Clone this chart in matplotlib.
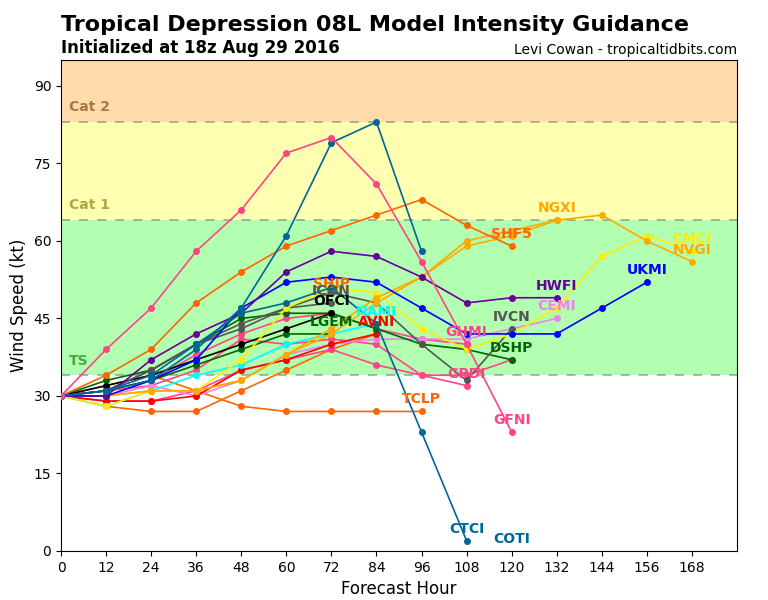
import matplotlib
matplotlib.use("Agg")
import matplotlib.pyplot as plt
import numpy as np

# ---------------- data ----------------
hours = [0, 12, 24, 36, 48, 60, 72, 84, 96, 108, 120, 132, 144, 156, 168]

COTI = [30, 31, 33, 39, 47, 61, 79, 83, 58]
CTCI = [30, 31, 34, 40, 46, 48, 51, 44, 23, 2]
GFNI = [30, 39, 47, 58, 66, 77, 80, 71, 56, 40, 23]
SHF5 = [30, 34, 39, 48, 54, 59, 62, 65, 68, 63, 59]
TCLP = [30, 32, 34, 31, 28, 27, 27, 27, 27]
OCD5 = [30, 28, 27, 27, 31, 35, 39, 42]
HWFI = [30, 30, 37, 42, 46, 54, 58, 57, 53, 48, 49, 49]
UKMI = [30, 30, 33, 37, 47, 52, 53, 52, 47, 42, 42, 42, 47, 52]
NGXI = [30, 30, 31, 31, 33, 38, 43, 49, 53, 60, 62, 64]
NVGI = [30, 30, 31, 31, 33, 38, 42, 48, 53, 59, 61, 64, 65, 60, 56]
CMCI = [30, 28, 31, 31, 37, 47, 51, 50, 43, 39, 42, 47, 57, 61, 58]
CEMI = [30, 30, 32, 30, 33, 38, 40, 41, 41, 41, 43, 45]
IVCN = [30, 31, 35, 40, 43, 47, 50, 48, 40, 33, 43]
ICON = [30, 31, 35, 40, 44, 47, 48]
GHMI = [30, 31, 33, 38, 42, 45, 46, 43, 41, 40]
GPDI = [30, 31, 32, 35, 41, 40, 41, 40, 34, 32]
GFDI = [30, 29, 29, 31, 35, 37, 39, 36, 34, 34, 37]
DSHP = [30, 33, 35, 40, 45, 46, 46, 43, 40, 39, 37]
LGEM = [30, 31, 33, 36, 39, 42, 42]
OFCI = [30, 32, 34, 37, 40, 43, 46]
NAMI = [30, 28, 31, 34, 36, 40, 42, 44]
AVNI = [30, 29, 29, 30, 35, 37, 40, 42]

# (name, values, colour, labelled)
models = [
    ("TCLP", TCLP, "#ff6600", True),
    ("OCD5", OCD5, "#ff6600", False),
    ("GFDI", GFDI, "#ff4488", False),
    ("GPDI", GPDI, "#ff4488", True),
    ("GHMI", GHMI, "#ff4488", True),
    ("CEMI", CEMI, "#ee82ee", True),
    ("AVNI", AVNI, "#ff0000", True),
    ("NAMI", NAMI, "#00ffff", True),
    ("LGEM", LGEM, "#006600", True),
    ("DSHP", DSHP, "#006600", True),
    ("OFCI", OFCI, "#000000", True),
    ("ICON", ICON, "#555555", True),
    ("IVCN", IVCN, "#555555", True),
    ("CMCI", CMCI, "#ffee00", True),
    ("NGXI", NGXI, "#ffaa00", True),
    ("NVGI", NVGI, "#ffaa00", True),
    ("UKMI", UKMI, "#0000ff", True),
    ("HWFI", HWFI, "#660099", True),
    ("SHF5", SHF5, "#ff6600", True),
    ("CTCI", CTCI, "#006699", True),
    ("COTI", COTI, "#006699", True),
    ("GFNI", GFNI, "#ff4488", True),
]

# labels whose anchor is not the last forecast point
label_anchor_override = {"COTI": (120, 0)}
extra_labels = [("SHIP", 72, 51.7, "#ff6600")]

# intensity bands (kt)
bands = [(0, 34, "#ffffff"), (34, 64, "#b2ffb2"), (64, 83, "#ffffb2"), (83, 95, "#ffdcaa")]
band_lines = [34, 64, 83]
band_labels = [("TS", 34, "#44aa44"), ("Cat 1", 64, "#aaaa44"), ("Cat 2", 83, "#aa7744")]

# ---------------- figure ----------------
fig = plt.figure(figsize=(7.68, 6.0), dpi=100)
ax = fig.add_axes([61 / 768, 1 - 551 / 600, (737 - 61) / 768, (551 - 60) / 600])

for lo, hi, c in bands:
    ax.axhspan(lo, hi, color=c, zorder=0, lw=0)
for y in band_lines:
    ax.axhline(y, color="#777777", alpha=0.6, lw=1.3, ls=(0, (5, 5)), zorder=1)
for txt, y, c in band_labels:
    ax.text(2, y + 1.5, txt, color=c, fontsize=10, fontweight="bold", va="bottom", ha="left", zorder=2)

for name, vals, col, _ in models:
    ax.plot(hours[:len(vals)], vals, color=col, lw=1.2, marker="o", ms=4, zorder=3)

for txt, h, v, c in extra_labels:
    ax.annotate(txt, (h, v), xytext=(0, 0), textcoords="offset pixels", ha="center", va="center",
                color=c, fontsize=10, fontweight="bold", zorder=5)

for name, vals, col, lab in models:
    if not lab:
        continue
    h, v = label_anchor_override.get(name, (hours[len(vals) - 1], vals[-1]))
    ax.annotate(name, (h, v), xytext=(0, 12), textcoords="offset pixels", ha="center", va="center",
                color=col, fontsize=10, fontweight="bold", zorder=6)

ax.set_xlim(0, 180)
ax.set_ylim(0, 95)
ax.set_xticks(np.arange(0, 169, 12))
ax.set_yticks(np.arange(0, 91, 15))
ax.tick_params(labelsize=10)
ax.set_xlabel("Forecast Hour", fontsize=12)
ax.set_ylabel("Wind Speed (kt)", fontsize=12)

fig.text(61 / 768, 1 - 25 / 600, "Tropical Depression 08L Model Intensity Guidance",
         fontsize=16, fontweight="bold", ha="left", va="center")
fig.text(61 / 768, 1 - 48 / 600, "Initialized at 18z Aug 29 2016",
         fontsize=12, fontweight="bold", ha="left", va="center")
fig.text(737 / 768, 1 - 50 / 600, "Levi Cowan - tropicaltidbits.com",
         fontsize=10, ha="right", va="center")

fig.savefig("out.png", dpi=100)
